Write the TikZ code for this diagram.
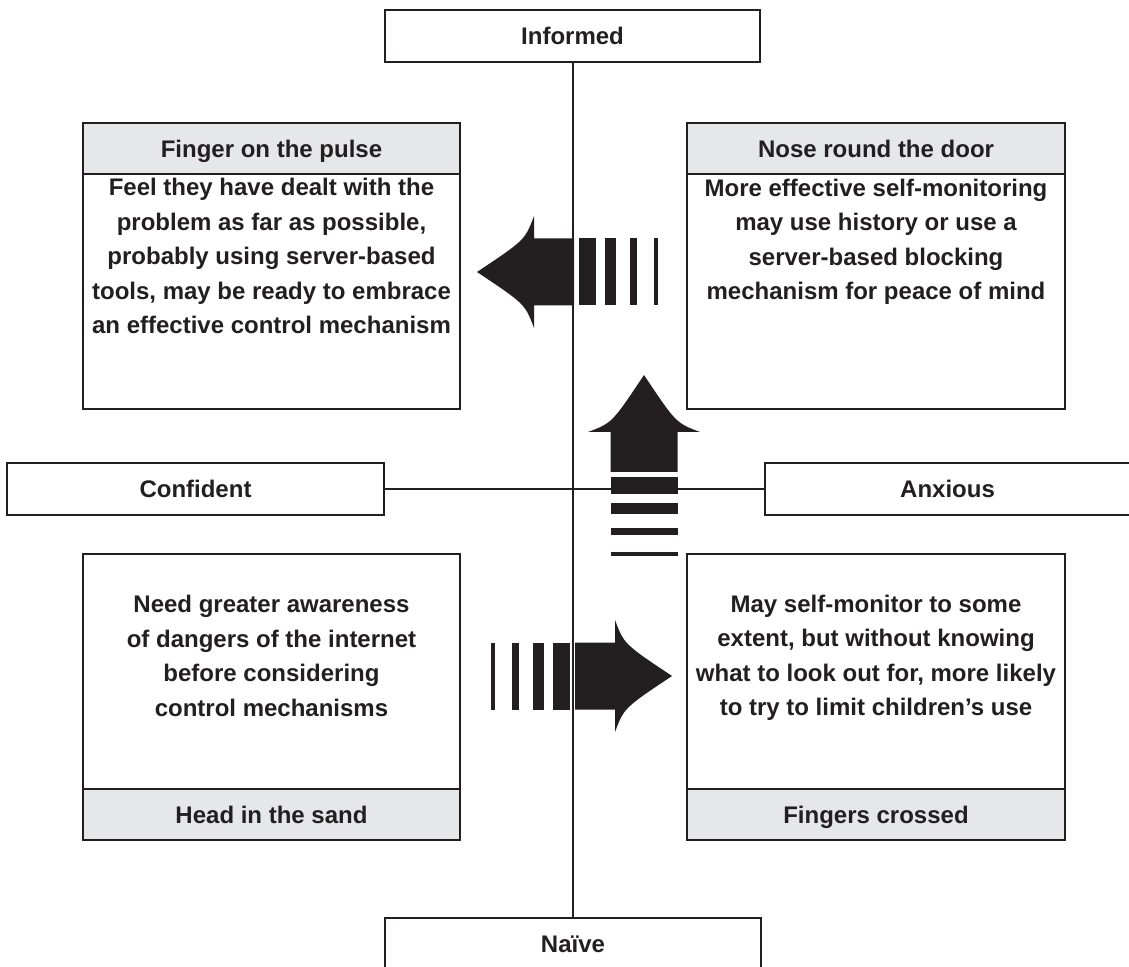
\documentclass[tikz,border=0pt]{standalone}
\usepackage{fontspec}
\setmainfont{Liberation Sans}
\definecolor{ink}{HTML}{231F20}
\definecolor{headgray}{HTML}{E6E7E8}
\tikzset{
  lbl/.style={font=\bfseries\fontsize{12}{14}\selectfont, text=ink, inner sep=0pt,
    text height=8.6pt, text depth=0pt},
  axisbox/.style={lbl, draw=ink, line width=1.1pt, fill=white, minimum height=26pt},
  headbox/.style={lbl, draw=ink, line width=1.3pt, fill=headgray, minimum height=25.5pt},
  bodybox/.style={draw=ink, line width=0.8pt, fill=white, minimum height=117.5pt, inner sep=0pt},
  bodytext/.style={align=center, text=ink, inner sep=0pt, font=\bfseries\fontsize{12}{17.25}\selectfont},
  axis/.style={draw=ink, line width=1pt},
  stripearrow/.pic={
    \fill[ink] (0,0) .. controls (48,-32) .. (57,-56) -- (57,-33.5) -- (97,-33.5)
      -- (97,33.5) -- (57,33.5) -- (57,56) .. controls (48,32) .. (0,0) -- cycle;
    \foreach \a/\b in {102/119, 128/139, 153/160, 177/181}
      \fill[ink] (\a,-33.5) rectangle (\b,33.5);
  }
}
\begin{document}
\begin{tikzpicture}[x=0.5pt, y=-0.5pt]
  \useasboundingbox (0,0) rectangle (1129,967);
  % Axis labels
  \node[axisbox, minimum width=187.5pt] (informed) at (572.5,36) {Informed};
  \node[axisbox, minimum width=188pt] (naive) at (573,944) {Naïve};
  \node[axisbox, minimum width=188.5pt] (confident) at (195.5,489) {Confident};
  \node[axisbox, minimum width=182.5pt] (anxious) at (947.5,489) {Anxious};
  % Quadrants, top
  \node[bodybox, minimum width=188.5pt] (pulsebody) at (271.5,291.5) {};
  \node[headbox, minimum width=188.5pt] (pulse) at (271.5,148.5) {Finger on the pulse};
  \node[bodytext] (pulsetext) at (271.5,256) {Feel they have dealt with the\\problem as far as possible,\\probably using server-based\\tools, may be ready to embrace\\an effective control mechanism};
  \node[bodybox, minimum width=189pt] (nosebody) at (876,291.5) {};
  \node[headbox, minimum width=189pt] (nose) at (876,148.5) {Nose round the door};
  \node[bodytext] (nosetext) at (876,242) {More effective self-monitoring\\may use history or use a\\server-based blocking\\mechanism for peace of mind};
  % Quadrants, bottom
  \node[bodybox, minimum width=188.5pt] (sandbody) at (271.5,671.5) {};
  \node[headbox, minimum width=188.5pt] (sand) at (271.5,814.5) {Head in the sand};
  \node[bodytext] (sandtext) at (271.5,656) {Need greater awareness\\of dangers of the internet\\before considering\\control mechanisms};
  \node[bodybox, minimum width=189pt] (crossbody) at (876,671.5) {};
  \node[headbox, minimum width=189pt] (cross) at (876,814.5) {Fingers crossed};
  \node[bodytext] (crosstext) at (876,658) {May self-monitor to some\\extent, but without knowing\\what to look out for, more likely\\to try to limit children’s use};
  % Axes
  \draw[axis] (informed.south) -- (informed.south |- naive.north);
  \draw[axis] (confident.east) -- (anxious.west);
  % Arrows
  \pic at (477,272) {stripearrow};
  \pic[rotate=-90] at (644,375) {stripearrow};
  \pic[rotate=180] at (672,676) {stripearrow};
\end{tikzpicture}
\end{document}
